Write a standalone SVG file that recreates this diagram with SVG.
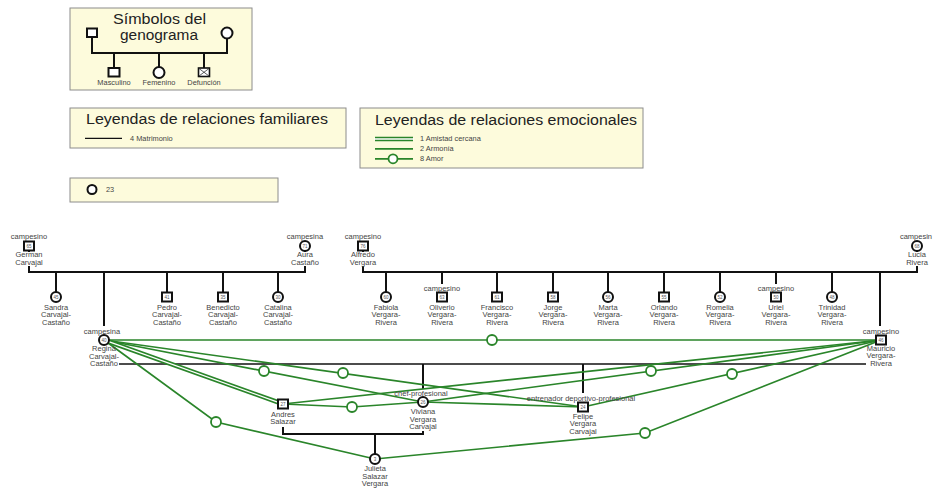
<svg xmlns="http://www.w3.org/2000/svg" width="933" height="489" viewBox="0 0 933 489">
<style>
  .bg{fill:#ffffff}
  .box{fill:#fdfbdc;stroke:#8c8c8c;stroke-width:1}
  .fam{stroke:#111;stroke-width:2;fill:none}
  .thin{stroke:#111;stroke-width:1.3;fill:none}
  .emo{stroke:#2a852a;stroke-width:1.7;fill:none}
  .dblo{stroke:#2a852a;stroke-width:4.6;fill:none}
  .dbli{stroke:#ffffff;stroke-width:1.3;fill:none}
  .amor{fill:#ffffff;stroke:#2a852a;stroke-width:1.8}
  .sym{fill:#ffffff;stroke:#111;stroke-width:2}
  .title{font-family:"Liberation Sans",Arial,sans-serif;font-size:14px;fill:#222;text-anchor:middle}
  .small{font-family:"Liberation Sans",Arial,sans-serif;font-size:7.4px;fill:#444}
  .lbl{font-family:"Liberation Sans",Arial,sans-serif;font-size:7.5px;fill:#444;text-anchor:middle}
  .age{font-family:"Liberation Sans",Arial,sans-serif;font-size:4.5px;fill:#555;text-anchor:middle}
</style>
<defs>
  <rect id="sq" x="-5" y="-4.5" width="10" height="9" class="sym"/>
  <circle id="ci" r="5" class="sym"/>
  <circle id="am" r="5" class="amor"/>
</defs>
<rect class="bg" x="0" y="0" width="933" height="489"/>

<!-- Legend: symbols -->
<g id="legend-symbols">
  <rect class="box" x="70" y="8" width="182" height="82"/>
  <text class="title" x="159.5" y="23.5" font-size="11.8" textLength="93" lengthAdjust="spacingAndGlyphs">Símbolos del</text>
  <text class="title" x="159" y="39.5" font-size="11.8" textLength="78" lengthAdjust="spacingAndGlyphs">genograma</text>
  <path class="fam" d="M92 37V53H227V38.5M114 53V68M159 53V67M204 53V68"/>
  <rect class="sym" x="87" y="28.5" width="10" height="8.5"/>
  <circle class="sym" cx="227" cy="33" r="5.5"/>
  <rect class="sym" x="108.5" y="68" width="11" height="8.5"/>
  <circle class="sym" cx="159" cy="72.5" r="5.5"/>
  <rect x="198.5" y="68" width="11" height="8.5" fill="#fff" stroke="#111" stroke-width="1.6"/>
  <path d="M199 68.5L209 76M209 68.5L199 76" stroke="#333" stroke-width="0.8"/>
  <text class="small" x="114" y="84.5" text-anchor="middle" font-size="6.8">Masculino</text>
  <text class="small" x="159" y="84.5" text-anchor="middle" font-size="6.8">Femenino</text>
  <text class="small" x="204" y="84.5" text-anchor="middle" font-size="6.8">Defunción</text>
</g>

<!-- Legend: family relations -->
<g id="legend-family">
  <rect class="box" x="70" y="108" width="276" height="40"/>
  <text class="title" x="207" y="124" textLength="242" lengthAdjust="spacingAndGlyphs">Leyendas de relaciones familiares</text>
  <path class="thin" d="M85 138.3H122"/>
  <text class="small" x="130" y="140.5">4 Matrimonio</text>
</g>

<!-- Legend: emotional relations -->
<g id="legend-emotional">
  <rect class="box" x="360" y="108" width="283" height="60"/>
  <text class="title" x="506" y="124.5" textLength="262" lengthAdjust="spacingAndGlyphs">Leyendas de relaciones emocionales</text>
  <path class="dblo" d="M375 139H413"/>
  <path class="dbli" d="M374 139H414"/>
  <path class="emo" d="M375 148.8H413M375 158.8H413"/>
  <circle class="amor" cx="393" cy="158.8" r="4.5"/>
  <text class="small" x="420" y="141">1 Amistad cercana</text>
  <text class="small" x="420" y="151">2 Armonía</text>
  <text class="small" x="420" y="161">8 Amor</text>
</g>

<!-- Legend: 23 -->
<g id="legend-23">
  <rect class="box" x="70" y="178" width="208" height="24"/>
  <circle cx="92" cy="189.5" r="4.5" fill="#fff" stroke="#111" stroke-width="2"/>
  <text class="small" x="106" y="191.5" font-size="6">23</text>
</g>

<!-- Connectors -->
<g id="connectors">
  <!-- family lines -->
  <path class="fam" d="M29 250.5V252M29 266V272H305V266M305 251V252"/>
  <path class="fam" d="M56 272V292M104 272V326M167 272V292.5M223 272V292.5M278 272V292"/>
  <path class="fam" d="M363 250.5V252M363 266V272H917V266M917 251V252"/>
  <path class="fam" d="M386 272V292M442 272V284M497 272V292.5M553 272V292.5M608 272V292M664 272V292.5M720 272V292M776 272V284M832 272V292M880 272V326"/>
  <path class="thin" d="M119 364H866"/>
  <path class="fam" d="M423 364V389M583 364V393"/>
  <path class="fam" d="M283 427V434H423V431M375 434V454"/>
  <!-- emotional lines -->
  <path class="emo" d="M104 340H881"/>
  <path class="emo" d="M104 340L423 402"/>
  <path class="emo" d="M104 340L583 407"/>
  <path class="dblo" d="M104 340L283 404"/>
  <path class="dbli" d="M108 341.4L279 402.6"/>
  <path class="emo" d="M104 340L216 422L375 459"/>
  <path class="emo" d="M881 340L423 402"/>
  <path class="emo" d="M881 340L583 407"/>
  <path class="emo" d="M881 340L283 404"/>
  <path class="emo" d="M881 340L645 433L375 459"/>
  <path class="emo" d="M283 404L352 407L423 402"/>
  <path class="emo" d="M423 402L583 407"/>
  <use href="#am" x="492" y="340"/>
  <use href="#am" x="264" y="371"/>
  <use href="#am" x="343" y="373"/>
  <use href="#am" x="216" y="422"/>
  <use href="#am" x="651" y="371"/>
  <use href="#am" x="732" y="374"/>
  <use href="#am" x="645" y="433"/>
  <use href="#am" x="352" y="407"/>
</g>

<!-- Persons -->
<g id="german"><text class="lbl" x="29" y="239">campesino</text><use href="#sq" x="29" y="246"/><text class="age" x="29" y="247.6">65</text><text class="lbl" x="29" y="257">German</text><text class="lbl" x="29" y="264.5">Carvajal</text></g>
<g id="aura"><text class="lbl" x="305" y="239">campesina</text><use href="#ci" x="305" y="246"/><text class="age" x="305" y="247.6">71</text><text class="lbl" x="305" y="257">Aura</text><text class="lbl" x="305" y="264.5">Castaño</text></g>
<g id="sandra"><use href="#ci" x="56" y="297"/><text class="age" x="56" y="298.6">45</text><text class="lbl" x="56" y="309.5">Sandra</text><text class="lbl" x="56" y="317">Carvajal-</text><text class="lbl" x="56" y="324.5">Castaño</text></g>
<g id="pedro"><use href="#sq" x="167" y="297"/><text class="age" x="167" y="298.6">41</text><text class="lbl" x="167" y="309.5">Pedro</text><text class="lbl" x="167" y="317">Carvajal-</text><text class="lbl" x="167" y="324.5">Castaño</text></g>
<g id="benedicto"><use href="#sq" x="223" y="297"/><text class="age" x="223" y="298.6">35</text><text class="lbl" x="223" y="309.5">Benedicto</text><text class="lbl" x="223" y="317">Carvajal-</text><text class="lbl" x="223" y="324.5">Castaño</text></g>
<g id="catalina"><use href="#ci" x="278" y="297"/><text class="age" x="278" y="298.6">30</text><text class="lbl" x="278" y="309.5">Catalina</text><text class="lbl" x="278" y="317">Carvajal-</text><text class="lbl" x="278" y="324.5">Castaño</text></g>
<g id="alfredo"><text class="lbl" x="363" y="239">campesino</text><use href="#sq" x="363" y="246"/><text class="age" x="363" y="247.6">76</text><text class="lbl" x="363" y="257">Alfredo</text><text class="lbl" x="363" y="264.5">Vergara</text></g>
<g id="lucia"><text class="lbl" x="916" y="239">campesin</text><use href="#ci" x="917" y="246"/><text class="age" x="917" y="247.6">68</text><text class="lbl" x="917" y="257">Lucia</text><text class="lbl" x="917" y="264.5">Rivera</text></g>
<g id="fabiola"><use href="#ci" x="386" y="297"/><text class="age" x="386" y="298.6">60</text><text class="lbl" x="386" y="309.5">Fabiola</text><text class="lbl" x="386" y="317">Vergara-</text><text class="lbl" x="386" y="324.5">Rivera</text></g>
<g id="oliverio"><text class="lbl" x="442" y="290.5">campesino</text><use href="#sq" x="442" y="297"/><text class="age" x="442" y="298.6">63</text><text class="lbl" x="442" y="309.5">Oliverio</text><text class="lbl" x="442" y="317">Vergara-</text><text class="lbl" x="442" y="324.5">Rivera</text></g>
<g id="francisco"><use href="#sq" x="497" y="297"/><text class="age" x="497" y="298.6">61</text><text class="lbl" x="497" y="309.5">Francisco</text><text class="lbl" x="497" y="317">Vergara-</text><text class="lbl" x="497" y="324.5">Rivera</text></g>
<g id="jorge"><use href="#sq" x="553" y="297"/><text class="age" x="553" y="298.6">58</text><text class="lbl" x="553" y="309.5">Jorge</text><text class="lbl" x="553" y="317">Vergara-</text><text class="lbl" x="553" y="324.5">Rivera</text></g>
<g id="marta"><use href="#ci" x="608" y="297"/><text class="age" x="608" y="298.6">56</text><text class="lbl" x="608" y="309.5">Marta</text><text class="lbl" x="608" y="317">Vergara-</text><text class="lbl" x="608" y="324.5">Rivera</text></g>
<g id="orlando"><use href="#sq" x="664" y="297"/><text class="age" x="664" y="298.6">55</text><text class="lbl" x="664" y="309.5">Orlando</text><text class="lbl" x="664" y="317">Vergara-</text><text class="lbl" x="664" y="324.5">Rivera</text></g>
<g id="romelia"><use href="#ci" x="720" y="297"/><text class="age" x="720" y="298.6">52</text><text class="lbl" x="720" y="309.5">Romelia</text><text class="lbl" x="720" y="317">Vergara-</text><text class="lbl" x="720" y="324.5">Rivera</text></g>
<g id="uriel"><text class="lbl" x="776" y="290.5">campesino</text><use href="#sq" x="776" y="297"/><text class="age" x="776" y="298.6">50</text><text class="lbl" x="776" y="309.5">Uriel</text><text class="lbl" x="776" y="317">Vergara-</text><text class="lbl" x="776" y="324.5">Rivera</text></g>
<g id="trinidad"><use href="#ci" x="832" y="297"/><text class="age" x="832" y="298.6">48</text><text class="lbl" x="832" y="309.5">Trinidad</text><text class="lbl" x="832" y="317">Vergara-</text><text class="lbl" x="832" y="324.5">Rivera</text></g>
<g id="regina"><text class="lbl" x="102" y="333.5">campesina</text><use href="#ci" x="104" y="340"/><text class="age" x="104" y="341.6">40</text><text class="lbl" x="104" y="351">Regina</text><text class="lbl" x="104" y="358.5">Carvajal-</text><text class="lbl" x="104" y="366">Castaño</text></g>
<g id="mauricio"><text class="lbl" x="881" y="333.5">campesino</text><use href="#sq" x="881" y="340"/><text class="age" x="881" y="341.6">46</text><text class="lbl" x="881" y="350.5">Mauricio</text><text class="lbl" x="881" y="358">Vergara-</text><text class="lbl" x="881" y="365.5">Rivera</text></g>
<g id="andres"><use href="#sq" x="283" y="404"/><text class="age" x="283" y="405.6">27</text><text class="lbl" x="283" y="416.5">Andres</text><text class="lbl" x="283" y="424">Salazar</text></g>
<g id="viviana"><text class="lbl" x="421" y="395.5">chef-profesional</text><use href="#ci" x="423" y="402"/><text class="age" x="423" y="403.6">26</text><text class="lbl" x="423" y="414">Viviana</text><text class="lbl" x="423" y="421.5">Vergara</text><text class="lbl" x="423" y="429">Carvajal</text></g>
<g id="felipe"><text class="lbl" x="581" y="400.5">entrenador deportivo-profesional</text><use href="#sq" x="583" y="407"/><text class="age" x="583" y="408.6">24</text><text class="lbl" x="583" y="418.5">Felipe</text><text class="lbl" x="583" y="426">Vergara</text><text class="lbl" x="583" y="433.5">Carvajal</text></g>
<g id="julieta"><use href="#ci" x="375" y="459"/><text class="age" x="375" y="460.6">3</text><text class="lbl" x="375" y="471">Julieta</text><text class="lbl" x="375" y="478.5">Salazar</text><text class="lbl" x="375" y="486">Vergara</text></g>
</svg>
